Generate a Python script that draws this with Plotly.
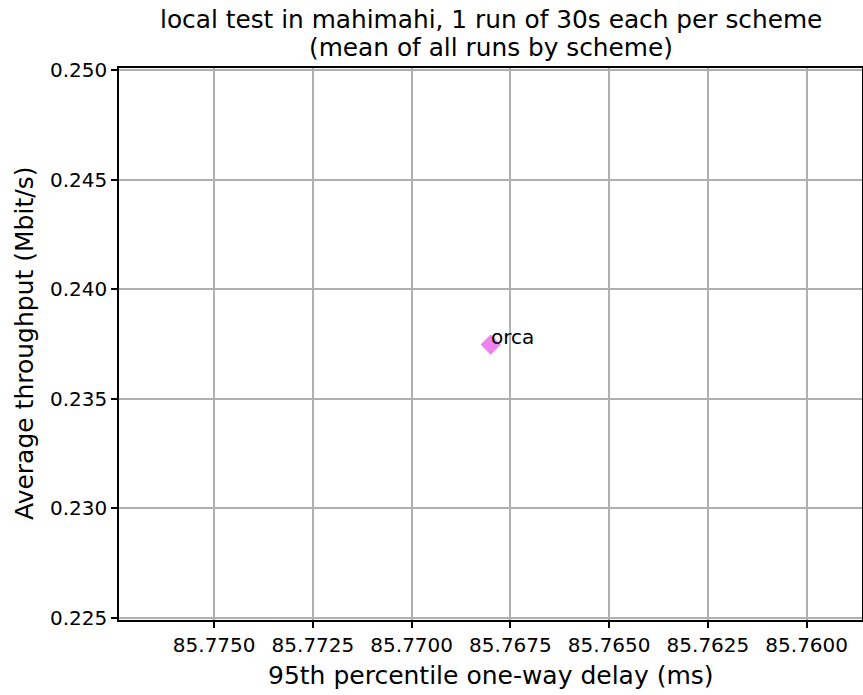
import plotly.graph_objects as go

schemes = ["orca"]
delay_95th_ms = [85.7680]
avg_throughput_mbps = [0.23748]
marker_colors = ["violet"]

x_ticks = [85.7750, 85.7725, 85.7700, 85.7675, 85.7650, 85.7625, 85.7600]
y_ticks = [0.225, 0.230, 0.235, 0.240, 0.245, 0.250]

title_lines = ["local test in mahimahi, 1 run of 30s each per scheme", "(mean of all runs by scheme)"]
x_title = "95th percentile one-way delay (ms)"
y_title = "Average throughput (Mbit/s)"

fig = go.Figure()
fig.add_trace(go.Scatter(
    x=delay_95th_ms, y=avg_throughput_mbps, mode="markers",
    marker=dict(symbol="diamond", size=15.5, color=marker_colors, line=dict(width=0)),
    showlegend=False, hoverinfo="skip",
))
for s, xv, yv in zip(schemes, delay_95th_ms, avg_throughput_mbps):
    fig.add_annotation(x=xv, y=yv, text=s, showarrow=False, xanchor="left", yanchor="bottom",
                       xshift=-2, yshift=-6, font=dict(size=20, color="black"))

axis_common = dict(
    showline=True, linecolor="black", linewidth=1.5, mirror=True,
    ticks="outside", ticklen=6, tickcolor="black", tickwidth=1.5,
    showgrid=True, gridcolor="#b0b0b0", gridwidth=1.6, zeroline=False,
    tickfont=dict(size=20, color="black"), automargin=False,
)
fig.update_xaxes(
    range=[85.77741, 85.75860], tickvals=x_ticks, ticktext=[f"{v:.4f}" for v in x_ticks],
    **axis_common,
)
fig.update_yaxes(
    range=[0.22491, 0.25010], tickvals=y_ticks, ticktext=[f"{v:.3f}" for v in y_ticks],
    **axis_common,
)

# axis titles and chart title
fig.add_annotation(xref="paper", yref="paper", x=0.5, y=0, xanchor="center", yanchor="middle",
                   yshift=-55, text=x_title, showarrow=False, font=dict(size=25, color="black"))
fig.add_annotation(xref="paper", yref="paper", x=0, y=0.5, xanchor="center", yanchor="middle",
                   xshift=-95, textangle=-90, text=y_title, showarrow=False,
                   font=dict(size=25, color="black"))
fig.add_annotation(xref="paper", yref="paper", x=0.5, y=1, xanchor="center", yanchor="middle",
                   yshift=49, text=title_lines[0], showarrow=False, font=dict(size=24.8, color="black"))
fig.add_annotation(xref="paper", yref="paper", x=0.5, y=1, xanchor="center", yanchor="middle",
                   yshift=21, text=title_lines[1], showarrow=False, font=dict(size=24.8, color="black"))

fig.update_layout(
    width=863, height=695,
    margin=dict(l=119, r=1, t=68, b=75),
    paper_bgcolor="white", plot_bgcolor="white",
    font=dict(family="DejaVu Sans", color="black"),
)
fig.write_html("out.html", config={"displayModeBar": False},
               post_script="document.body.style.margin='0';document.body.style.overflow='hidden';")
